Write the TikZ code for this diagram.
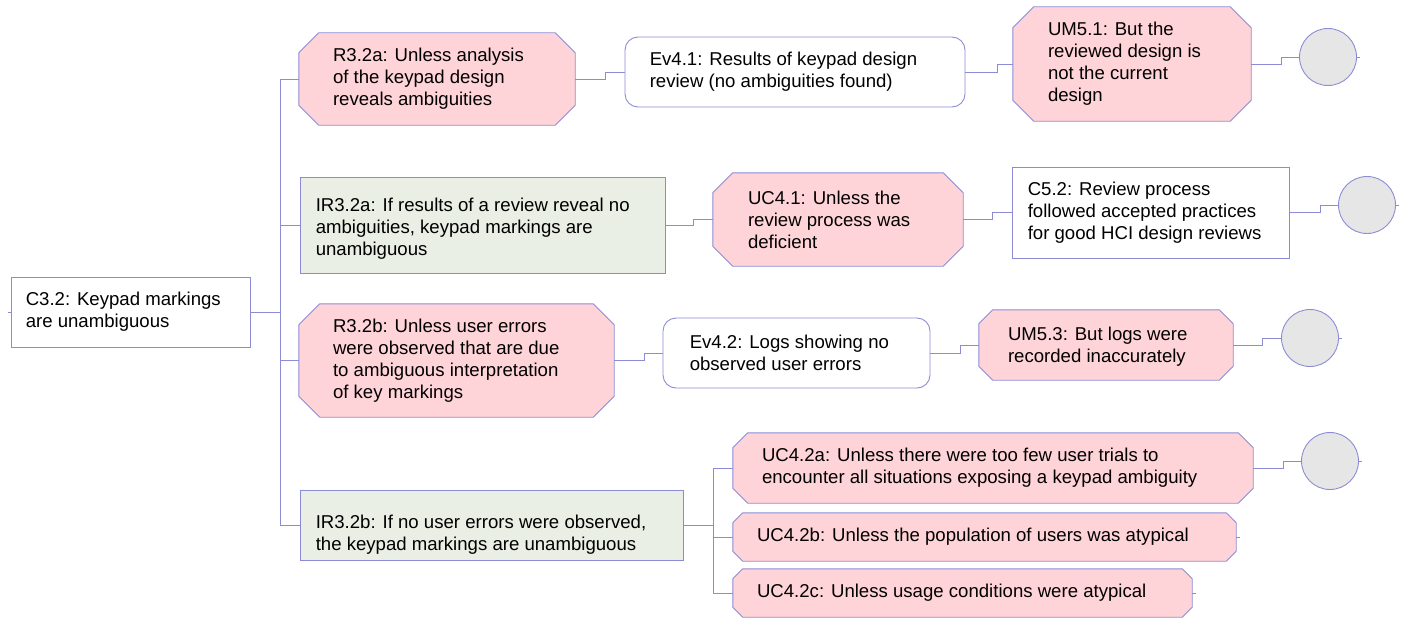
\documentclass[tikz,border=0pt]{standalone}
\usepackage{fontspec}
\setmainfont{Liberation Sans}
\usetikzlibrary{calc}
\definecolor{edgec}{RGB}{140,140,214}
\definecolor{pinkf}{RGB}{255,212,216}
\definecolor{greenf}{RGB}{233,239,228}
\definecolor{greyf}{RGB}{230,230,230}
\newcommand{\octo}[2]{\draw[octline] ([xshift=#2]#1.north west) -- ([xshift=-#2]#1.north east) -- ([yshift=-#2]#1.north east) -- ([yshift=#2]#1.south east) -- ([xshift=-#2]#1.south east) -- ([xshift=#2]#1.south west) -- ([yshift=#2]#1.south west) -- ([yshift=-#2]#1.north west) -- cycle;}
\tikzset{
  octbox/.style={rectangle, draw=none, inner sep=0pt},
  octline/.style={draw=edgec, fill=pinkf, line width=0.9pt},
  plainbox/.style={rectangle, draw=edgec, fill=white, line width=0.9pt, inner sep=0pt},
  roundbox/.style={plainbox, rounded corners=13pt},
  greenbox/.style={plainbox, fill=greenf},
  endcirc/.style={circle, draw=edgec, fill=greyf, line width=0.9pt, minimum size=57pt, inner sep=0pt},
  txt/.style={anchor=west, align=left, inner sep=0pt, font=\fontsize{18.6}{22}\selectfont},
  conn/.style={draw=edgec, line width=0.9pt}
}
\begin{document}
\begin{tikzpicture}[x=1pt,y=-1pt]
\useasboundingbox (0,0) rectangle (1406,618);
% boxes
\node[plainbox, minimum width=239pt, minimum height=70pt] (c32) at (130.5,312) {};
\node[octbox, minimum width=276pt, minimum height=92pt] (r32a) at (437,79) {};
\node[roundbox, minimum width=340pt, minimum height=70pt] (ev41) at (795,72) {};
\node[octbox, minimum width=238pt, minimum height=114pt] (um51) at (1132,64) {};
\node[endcirc] (circ1) at (1328,57) {};
\node[greenbox, minimum width=365pt, minimum height=96pt] (ir32a) at (482.5,225) {};
\node[octbox, minimum width=250pt, minimum height=93pt] (uc41) at (838,219.5) {};
\node[plainbox, minimum width=277pt, minimum height=91pt] (c52) at (1150.5,212.5) {};
\node[endcirc] (circ2) at (1367,205) {};
\node[octbox, minimum width=315pt, minimum height=113pt] (r32b) at (456.5,360.5) {};
\node[roundbox, minimum width=267pt, minimum height=70pt] (ev42) at (796.5,353) {};
\node[octbox, minimum width=254pt, minimum height=70pt] (um53) at (1106,345) {};
\node[endcirc] (circ3) at (1310,338) {};
\node[greenbox, minimum width=383pt, minimum height=70pt] (ir32b) at (491.5,525) {};
\node[octbox, minimum width=520pt, minimum height=70pt] (uc42a) at (993,468) {};
\node[octbox, minimum width=503pt, minimum height=48pt] (uc42b) at (984.5,537) {};
\node[octbox, minimum width=459pt, minimum height=48pt] (uc42c) at (962.5,593) {};
\node[endcirc] (circ4) at (1330,461) {};
% octagons
\octo{r32a}{20pt}
\octo{um51}{21pt}
\octo{uc41}{20pt}
\octo{r32b}{21pt}
\octo{um53}{14pt}
\octo{uc42a}{15pt}
\octo{uc42b}{10pt}
\octo{uc42c}{10pt}
% texts
\node[txt] (t-c32) at ([xshift=15pt]c32.west) {C3.2: Keypad markings\\are unambiguous};
\node[txt] (t-r32a) at ([xshift=34pt]r32a.west) {R3.2a: Unless analysis\\of the keypad design\\reveals ambiguities};
\node[txt] (t-ev41) at ([xshift=25pt]ev41.west) {Ev4.1: Results of keypad design\\review (no ambiguities found)};
\node[txt] (t-um51) at ([xshift=35pt]um51.west) {UM5.1: But the\\reviewed design is\\not the current\\design};
\node[txt] (t-ir32a) at ([xshift=16pt,yshift=-4pt]ir32a.west) {IR3.2a: If results of a review reveal no\\ambiguities, keypad markings are\\unambiguous};
\node[txt] (t-uc41) at ([xshift=35pt]uc41.west) {UC4.1: Unless the\\review process was\\deficient};
\node[txt] (t-c52) at ([xshift=16pt]c52.west) {C5.2: Review process\\followed accepted practices\\for good HCI design reviews};
\node[txt] (t-r32b) at ([xshift=34pt]r32b.west) {R3.2b: Unless user errors\\were observed that are due\\to ambiguous interpretation\\of key markings};
\node[txt] (t-ev42) at ([xshift=27pt]ev42.west) {Ev4.2: Logs showing no\\observed user errors};
\node[txt] (t-um53) at ([xshift=29pt,yshift=-2pt]um53.west) {UM5.3: But logs were\\recorded inaccurately};
\node[txt] (t-ir32b) at ([xshift=16pt,yshift=-10pt]ir32b.west) {IR3.2b: If no user errors were observed,\\the keypad markings are unambiguous};
\node[txt] (t-uc42a) at ([xshift=29pt]uc42a.west) {UC4.2a: Unless there were too few user trials to\\encounter all situations exposing a keypad ambiguity};
\node[txt] (t-uc42b) at ([xshift=24pt]uc42b.west) {UC4.2b: Unless the population of users was atypical};
\node[txt] (t-uc42c) at ([xshift=24pt]uc42c.west) {UC4.2c: Unless usage conditions were atypical};
% connectors
\coordinate (tr) at (280,312);
\coordinate (st) at (713,525);
\draw[conn] (c32.west) -- ++(-3,0);
\draw[conn] (c32.east) -- (tr);
\draw[conn] (r32a.west) -- (r32a.west -| tr) -- (ir32b.west -| tr) -- (ir32b.west);
\draw[conn] (ir32a.west) -- (ir32a.west -| tr);
\draw[conn] (r32b.west) -- (r32b.west -| tr);
\draw[conn] (r32a.east) -- ++(30,0) |- (ev41.west);
\draw[conn] (ev41.east) -- ++(32,0) |- (um51.west);
\draw[conn] (um51.east) -- ++(30,0) |- (circ1.west);
\draw[conn] (ir32a.east) -- ++(28,0) |- (uc41.west);
\draw[conn] (uc41.east) -- ++(29,0) |- (c52.west);
\draw[conn] (c52.east) -- ++(31,0) |- (circ2.west);
\draw[conn] (r32b.east) -- ++(30,0) |- (ev42.west);
\draw[conn] (ev42.east) -- ++(30,0) |- (um53.west);
\draw[conn] (um53.east) -- ++(29,0) |- (circ3.west);
\draw[conn] (ir32b.east) -- (st);
\draw[conn] (uc42a.west) -- (uc42a.west -| st) -- (uc42c.west -| st) -- (uc42c.west);
\draw[conn] (uc42b.west) -- (uc42b.west -| st);
\draw[conn] (uc42a.east) -- ++(30,0) |- (circ4.west);
\draw[conn] (uc42b.east) -- ++(4,0);
\draw[conn] (uc42c.east) -- ++(4,0);
\draw[conn] (circ1.east) -- ++(3,0);
\draw[conn] (circ2.east) -- ++(3,0);
\draw[conn] (circ3.east) -- ++(3,0);
\draw[conn] (circ4.east) -- ++(3,0);
\end{tikzpicture}
\end{document}
